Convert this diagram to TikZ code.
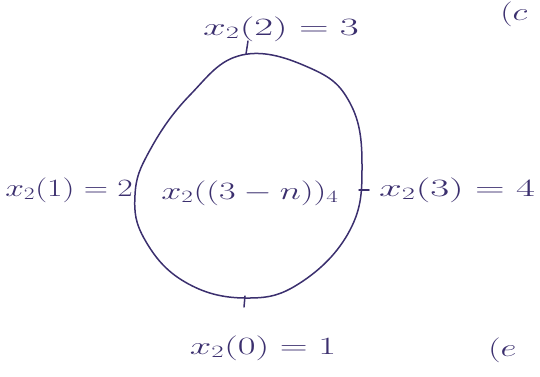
\documentclass[tikz,border=0pt]{standalone}
\usepackage{tikz}
\definecolor{ink}{HTML}{3B2F6E}
\begin{document}
\begin{tikzpicture}[x=1pt,y=-1pt,
  lbl/.style={text=ink,inner sep=0pt,font=\fontsize{26}{30}\selectfont},
  pen/.style={draw=ink,line width=1.5pt,line cap=round}]
\useasboundingbox (0,0) rectangle (540,376);
% the circle
\draw[pen] plot[smooth cycle,tension=0.7] coordinates {
 (242,55) (310,68) (350,103) (362,165) (350,230)
 (300,283) (245,298) (185,282) (145,240) (135,195)
 (150,150) (190,95)};
\coordinate (ttop) at (246,54);
\coordinate (tbot) at (245,296);
\coordinate (tright) at (359,190);
\draw[pen] (ttop) -- ++(2,-13);
\draw[pen] (tbot) -- ++(-1,11);
\draw[pen] (tright) -- ++(10,0);
% labels
\node[lbl,anchor=center,xscale=1.65] (top) at (281,29) {$x_2(2)=3$};
\node[lbl,anchor=center,xscale=1.35] (left) at (69,190) {$x_2(1)=2$};
\node[lbl,anchor=center,xscale=1.45] (mid) at (250,193) {$x_2((3-n))_4$};
\node[lbl,anchor=center,xscale=1.65] (right) at (457,190) {$x_2(3)=4$};
\node[lbl,anchor=center,xscale=1.55] (bot) at (263,348) {$x_2(0)=1$};
\node[lbl,anchor=west,xscale=1.4] (ce) at (488,350) {$(e$};
\node[lbl,anchor=north west,xscale=1.4] (cc) at (500,2) {$(c$};
\end{tikzpicture}
\end{document}
